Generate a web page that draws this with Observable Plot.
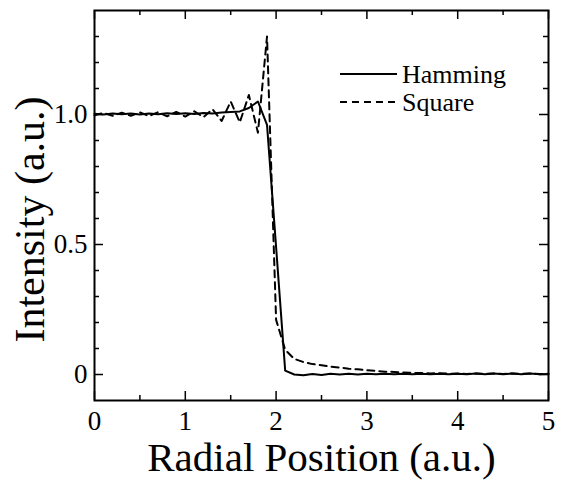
<!DOCTYPE html>
<html><head><meta charset="utf-8">
<script src="https://cdn.jsdelivr.net/npm/d3@7"></script>
<script src="https://cdn.jsdelivr.net/npm/@observablehq/plot@0.6"></script>
<style>
body{margin:0;background:#fff;}
#chart{width:561px;height:481px;}
</style>
</head><body><div id="chart"></div>
<script>
const xPositions = [0.0,0.1,0.2,0.3,0.4,0.5,0.6,0.7,0.8,0.9,1.0,1.1,1.2,1.3,1.4,1.5,1.6,1.7,1.8,1.9,2.0,2.1,2.2,2.3,2.4,2.5,2.6,2.7,2.8,2.9,3.0,3.1,3.2,3.3,3.4,3.5,3.6,3.7,3.8,3.9,4.0,4.1,4.2,4.3,4.4,4.5,4.6,4.7,4.8,4.9,5.0];
const hamming = [1.003,1.000,1.004,1.001,1.004,1.000,1.004,1.001,1.005,1.002,1.005,1.002,1.006,1.004,1.008,1.010,1.012,1.025,1.050,0.960,0.490,0.015,0.000,-0.003,0.002,-0.002,0.003,0.000,0.003,0.000,0.003,0.001,0.003,0.001,0.003,0.001,0.003,0.001,0.003,0.001,0.003,0.001,0.004,0.001,0.004,0.001,0.004,0.001,0.004,0.001,0.002];
const square = [0.997,1.006,0.995,1.007,0.995,1.008,0.994,1.009,0.993,1.010,0.992,1.012,0.990,1.020,0.975,1.050,0.970,1.075,0.930,1.300,0.210,0.095,0.060,0.048,0.040,0.036,0.030,0.027,0.022,0.020,0.016,0.014,0.011,0.010,0.008,0.006,0.006,0.004,0.005,0.003,0.004,0.002,0.004,0.002,0.004,0.002,0.004,0.002,0.004,0.002,0.003];
const seriesNames = ["Hamming", "Square"];
const xTickLabels = [0,1,2,3,4,5];
const xMinorTicks = [0.5,1.5,2.5,3.5,4.5];
const yTickLabels = [0,0.5,1.0];
const yMinorTicks = [0.1,0.2,0.3,0.4,0.6,0.7,0.8,0.9,1.1,1.2,1.3];
const xTitle = "Radial Position (a.u.)";
const yTitle = "Intensity (a.u.)";

const hammingData = xPositions.map((x,i)=>({x, y: hamming[i]}));
const squareData = xPositions.map((x,i)=>({x, y: square[i]}));

const W = 561, H = 481, mL = 94, mR = 13, mT = 10, mB = 81;
const pw = W - mL - mR, ph = H - mT - mB;
const FONT = "'Liberation Serif','Times New Roman',serif";

const chart = Plot.plot({
  width: W, height: H,
  marginLeft: mL, marginRight: mR, marginTop: mT, marginBottom: mB,
  style: {fontFamily: FONT, background: "#fff", color: "#000"},
  x: {domain: [0,5], axis: null},
  y: {domain: [-0.1,1.4], axis: null},
  marks: [
    Plot.axisX({ticks: xTickLabels, tickSize: 0, tickPadding: 10, fontSize: 27, label: null, tickFormat: d => String(d), fill: "#000"}),
    Plot.axisY({ticks: yTickLabels, tickSize: 0, tickPadding: 7, fontSize: 27, label: null, tickFormat: d => d === 0 ? "0" : d.toFixed(1), fill: "#000"}),
    Plot.tickX(xTickLabels, {x: d => d, insetTop: ph - 9, stroke: "#000", strokeWidth: 1.5}),
    Plot.tickX(xMinorTicks, {x: d => d, insetTop: ph - 5, stroke: "#000", strokeWidth: 1.5}),
    Plot.tickX(xTickLabels, {x: d => d, insetBottom: ph - 9, stroke: "#000", strokeWidth: 1.5}),
    Plot.tickX(xMinorTicks, {x: d => d, insetBottom: ph - 5, stroke: "#000", strokeWidth: 1.5}),
    Plot.tickY(yTickLabels, {y: d => d, insetRight: pw - 9, stroke: "#000", strokeWidth: 1.5}),
    Plot.tickY(yMinorTicks, {y: d => d, insetRight: pw - 5, stroke: "#000", strokeWidth: 1.5}),
    Plot.tickY(yTickLabels, {y: d => d, insetLeft: pw - 9, stroke: "#000", strokeWidth: 1.5}),
    Plot.tickY(yMinorTicks, {y: d => d, insetLeft: pw - 5, stroke: "#000", strokeWidth: 1.5}),
    Plot.line(squareData, {x: "x", y: "y", stroke: "#000", strokeWidth: 2, strokeDasharray: "7,5"}),
    Plot.line(hammingData, {x: "x", y: "y", stroke: "#000", strokeWidth: 2}),
    Plot.frame({stroke: "#000", strokeWidth: 2}),
    Plot.text([xTitle], {text: d => d, frameAnchor: "bottom", dy: 57, lineAnchor: "middle", textAnchor: "middle", fontSize: 41, fill: "#000"}),
    Plot.text([yTitle], {text: d => d, frameAnchor: "left", dx: -64, dy: 14, rotate: -90, lineAnchor: "middle", textAnchor: "middle", fontSize: 42, fill: "#000"})
  ]
});

const svg = d3.select(chart);
const leg = svg.append("g").attr("font-family", FONT).attr("font-size", 26).attr("text-anchor", "start");
const rows = [{name: seriesNames[0], dash: null, y: 74}, {name: seriesNames[1], dash: "7,5", y: 102}];
rows.forEach(r => {
  leg.append("line").attr("x1", 340).attr("x2", 397).attr("y1", r.y).attr("y2", r.y)
    .attr("stroke", "#000").attr("stroke-width", 2).attr("stroke-dasharray", r.dash);
  leg.append("text").attr("x", 402).attr("y", r.y).attr("dy", "0.33em").attr("fill", "#000").text(r.name);
});

document.getElementById("chart").appendChild(chart);
</script>
</body></html>
